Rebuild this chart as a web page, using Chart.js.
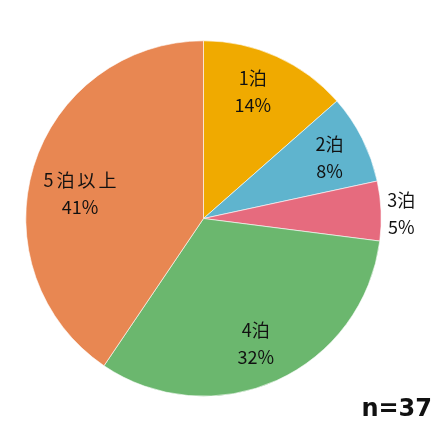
<!DOCTYPE html>
<html>
<head>
<meta charset="utf-8">
<script src="https://cdn.jsdelivr.net/npm/chart.js@4/dist/chart.umd.min.js"></script>
<style>
html,body{margin:0;padding:0;background:#fff;}
#c{display:block;}
</style>
</head>
<body>
<canvas id="c" width="448" height="422"></canvas>
<script>
const categories = ['1泊', '2泊', '3泊', '4泊', '5泊以上'];
const counts = [5, 3, 2, 12, 15];
const percentLabels = ['14%', '8%', '5%', '32%', '41%'];
const colors = ['#F0AA00', '#5FB4CE', '#E66B7E', '#6BB76E', '#E88752'];
const labelRadiusFactor = [0.771, 0.788, 1.113, 0.763, 0.71];
const labelAngleFraction = [0.434, 0.53, 0.54, 0.514, 0.464];
const sampleNote = 'n=37';

const labelPlugin = {
  id: 'sliceLabels',
  afterDatasetsDraw(chart) {
    const ctx = chart.ctx;
    const meta = chart.getDatasetMeta(0);
    ctx.save();
    ctx.fillStyle = '#111';
    ctx.textAlign = 'center';
    ctx.textBaseline = 'middle';
    ctx.font = '18px "Noto Sans CJK JP", "Noto Sans", sans-serif';
    meta.data.forEach((arc, i) => {
      const p = arc.getProps(['x', 'y', 'startAngle', 'endAngle', 'outerRadius'], true);
      const a = p.startAngle + (p.endAngle - p.startAngle) * labelAngleFraction[i];
      const r = p.outerRadius * labelRadiusFactor[i];
      const x = p.x + Math.cos(a) * r;
      const y = p.y + Math.sin(a) * r;
      ctx.letterSpacing = categories[i].length > 2 ? '3px' : '0px';
      ctx.fillText(categories[i], x + (categories[i].length > 2 ? 1.5 : 0), y - 13);
      ctx.letterSpacing = '0px';
      ctx.fillText(percentLabels[i], x, y + 14);
    });
    ctx.font = 'bold 24px "DejaVu Sans", "Noto Sans", sans-serif';
    ctx.letterSpacing = '0px';
    ctx.textAlign = 'right';
    ctx.fillText(sampleNote, 432, 410);
    ctx.restore();
  }
};

new Chart(document.getElementById('c'), {
  type: 'pie',
  data: {
    labels: categories,
    datasets: [{
      data: counts,
      backgroundColor: colors,
      borderColor: '#ffffff',
      borderWidth: 0.6
    }]
  },
  options: {
    responsive: false,
    animation: false,
    layout: { padding: { left: 25.5, right: 66.5, top: 40, bottom: 25 } },
    plugins: {
      legend: { display: false },
      tooltip: { enabled: false }
    }
  },
  plugins: [labelPlugin]
});
</script>
</body>
</html>
